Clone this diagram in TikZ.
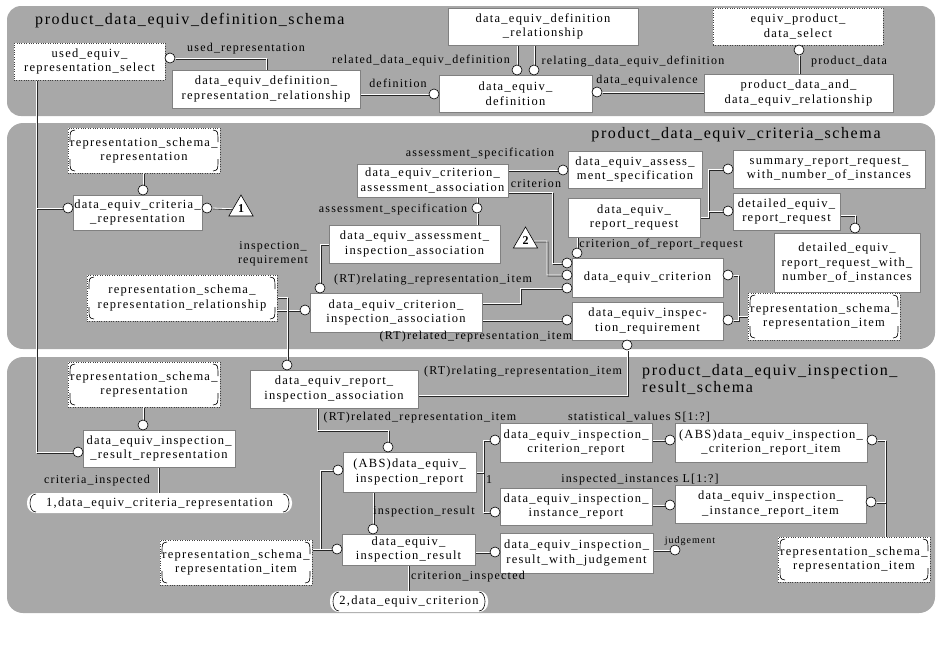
\documentclass[tikz,border=0pt]{standalone}
\usepackage{fontspec}
\setmainfont[LetterSpace=10]{Liberation Serif}
\usetikzlibrary{shapes.geometric}
\pgfdeclarelayer{bg}\pgfdeclarelayer{lns}\pgfsetlayers{bg,lns,main}
\definecolor{panel}{RGB}{168,168,168}
\newcommand\bxf{\fontsize{12.5}{14.5}\selectfont}
\newcommand\lbf{\fontsize{12}{14}\selectfont}
\newcommand\ttf{\fontsize{16}{17}\selectfont}
\newcommand\mybox[7]{\node[#6, minimum width={(#4-#2)*1pt}, minimum height={(#5-#3)*1pt}] (#1) at ({(#2+#4)/2},{(#3+#5)/2}) {#7};}
\tikzset{
 ent/.style={draw=black!50, line width=0.4pt, fill=white, align=center, font=\bxf, inner sep=0pt},
 sel/.style={ent, draw=black!75, dotted, line width=0.6pt},
 rsel/.style={sel, path picture={
   \draw[solid, black, line width=0.6pt]
    ([shift={(7pt,-2pt)}]path picture bounding box.north west) .. controls ([shift={(2pt,-3pt)}]path picture bounding box.north west) .. ([shift={(2pt,-14pt)}]path picture bounding box.north west)
    ([shift={(7pt,2pt)}]path picture bounding box.south west) .. controls ([shift={(2pt,3pt)}]path picture bounding box.south west) .. ([shift={(2pt,14pt)}]path picture bounding box.south west)
    ([shift={(-7pt,-2pt)}]path picture bounding box.north east) .. controls ([shift={(-2pt,-3pt)}]path picture bounding box.north east) .. ([shift={(-2pt,-14pt)}]path picture bounding box.north east)
    ([shift={(-7pt,2pt)}]path picture bounding box.south east) .. controls ([shift={(-2pt,3pt)}]path picture bounding box.south east) .. ([shift={(-2pt,14pt)}]path picture bounding box.south east);
 }},
 stad/.style={fill=white, rounded corners=9pt, align=center, font=\bxf, inner sep=0pt, path picture={
   \draw[sharp corners, solid, black, line width=0.6pt]
    ([shift={(9pt,-1pt)}]path picture bounding box.north west) .. controls ([shift={(1pt,-1pt)}]path picture bounding box.north west) and ([shift={(1pt,1pt)}]path picture bounding box.south west) .. ([shift={(9pt,1pt)}]path picture bounding box.south west)
    ([shift={(-9pt,-1pt)}]path picture bounding box.north east) .. controls ([shift={(-1pt,-1pt)}]path picture bounding box.north east) and ([shift={(-1pt,1pt)}]path picture bounding box.south east) .. ([shift={(-9pt,1pt)}]path picture bounding box.south east);
 }},
 circ/.style={circle, draw=black, fill=white, line width=0.6pt, minimum size=10pt, inner sep=0pt},
 lbl/.style={font=\lbf, inner sep=0pt, align=center},
 ttl/.style={font=\ttf, inner sep=0pt, align=left},
 tri/.style={regular polygon, regular polygon sides=3, draw=black, fill=white, line width=0.6pt, minimum size=28pt, inner sep=0pt, font=\bfseries\fontsize{12}{12}\selectfont},
 ln/.style={draw=white, line width=0.8pt, preaction={draw=black!85, line width=0.8pt, transform canvas={shift={(0.9pt,-0.9pt)}}}},
}
\begin{document}
\begin{tikzpicture}[x=1pt,y=-1pt]
\useasboundingbox (0,0) rectangle (939,657);
\begin{pgfonlayer}{bg}
\fill[white] (0,0) rectangle (939,657);
\fill[panel, rounded corners=14pt] (7,6) rectangle (935,116);
\fill[panel, rounded corners=16pt] (7,123) rectangle (935,349);
\fill[panel, rounded corners=16pt] (7,357) rectangle (935,613);
\end{pgfonlayer}
% ---------- panel 1
\node[ttl, anchor=west] (t1) at (35,21) {product\_data\_equiv\_definition\_schema};
\mybox{used}{14}{43}{165}{80}{sel}{used\_equiv\_\\representation\_select}
\mybox{uerr}{172}{70}{360}{108}{ent}{data\_equiv\_definition\_\\representation\_relationship}
\mybox{dedr}{448}{8}{638}{45}{ent}{data\_equiv\_definition\\\_relationship}
\mybox{dedef}{439}{75}{592}{112}{ent}{data\_equiv\_\\definition}
\mybox{eps}{713}{8}{883}{45}{sel}{equiv\_product\_\\data\_select}
\mybox{pdaer}{704}{74}{893}{112}{ent}{product\_data\_and\_\\data\_equiv\_relationship}
\node[circ] (c1) at (170,58) {};
\node[circ] (c2) at (434,94) {};
\node[circ] (c3) at (517,70) {};
\node[circ] (c4) at (534,70) {};
\node[circ] (c5) at (597,92) {};
\node[circ] (c6) at (799,50) {};
\node[lbl] (l1) at (246,49) {used\_representation};
\node[lbl] (l2) at (421,61) {related\_data\_equiv\_definition};
\node[lbl] (l3) at (398,83) {definition};
\node[lbl] (l4) at (633,62) {relating\_data\_equiv\_definition};
\node[lbl] (l5) at (647,81) {data\_equivalence};
\node[lbl] (l6) at (849,62) {product\_data};
% ---------- panel 2
\node[ttl] (t2) at (736,135) {product\_data\_equiv\_criteria\_schema};
\mybox{rsr2}{68}{128}{220}{173}{rsel}{representation\_schema\_\\representation}
\mybox{dcr}{73}{195}{202}{230}{ent}{data\_equiv\_criteria\_\\\_representation}
\node[tri] (tri1) at (241,209) {1};
\mybox{dcaa}{357}{164}{508}{197}{ent}{data\_equiv\_criterion\_\\assessment\_association}
\mybox{deas}{568}{151}{702}{188}{ent}{data\_equiv\_assess\_\\ment\_specification}
\mybox{derr}{568}{198}{700}{237}{ent}{data\_equiv\_\\report\_request}
\mybox{srr}{733}{150}{925}{188}{ent}{summary\_report\_request\_\\with\_number\_of\_instances}
\mybox{der}{733}{193}{840}{230}{ent}{detailed\_equiv\_\\report\_request}
\mybox{dwn}{774}{233}{920}{292}{ent}{detailed\_equiv\_\\report\_request\_with\_\\number\_of\_instances}
\node[tri] (tri2) at (525.5,241) {2};
\mybox{deaia}{329}{225}{500}{263}{ent}{data\_equiv\_assessment\_\\inspection\_association}
\mybox{crit}{572}{258}{723}{297}{ent}{data\_equiv\_criterion}
\mybox{dir}{572}{302}{723}{340}{ent}{data\_equiv\_inspec-\\tion\_requirement}
\mybox{dcia}{310}{293}{482}{332}{ent}{data\_equiv\_criterion\_\\inspection\_association}
\mybox{rsrr}{87}{275}{277}{321}{rsel}{representation\_schema\_\\representation\_relationship}
\mybox{rsri2}{748}{293}{900}{340}{rsel}{representation\_schema\_\\representation\_item}
\node[circ] (c7) at (143,190) {};
\node[circ] (c8) at (68,208) {};
\node[circ] (c9) at (207,208) {};
\node[circ] (c10) at (563,170) {};
\node[circ] (c11) at (477,208) {};
\node[circ] (c12) at (567,263) {};
\node[circ] (c13) at (567,275) {};
\node[circ] (c14) at (567,288) {};
\node[circ] (c15) at (577,253) {};
\node[circ] (c16) at (728,275) {};
\node[circ] (c17) at (567,320) {};
\node[circ] (c18) at (728,320) {};
\node[circ] (c19) at (627,345) {};
\node[circ] (c20) at (728,169) {};
\node[circ] (c21) at (728,211) {};
\node[circ] (c22) at (855,228) {};
\node[circ] (c23) at (320,288) {};
\node[circ] (c24) at (305,310) {};
\node[lbl] (l7) at (480,154) {assessment\_specification};
\node[lbl] (l8) at (536,184) {criterion};
\node[lbl] (l9) at (393,210) {assessment\_specification};
\node[lbl] (l10) at (661,245) {criterion\_of\_report\_request};
\node[lbl] (l11) at (273,254) {inspection\_\\requirement};
\node[lbl] (l12) at (433,280) {(RT)relating\_representation\_item};
\node[lbl] (l13) at (476,337) {(RT)related\_representation\_item};
% ---------- panel 3
\node[ttl, anchor=north west] (t3) at (642,364) {product\_data\_equiv\_inspection\_\\result\_schema};
\mybox{rsr3}{68}{362}{220}{407}{rsel}{representation\_schema\_\\representation}
\mybox{dirr}{83}{430}{235}{467}{ent}{data\_equiv\_inspection\_\\\_result\_representation}
\mybox{st1}{27}{493}{292}{513}{stad}{1,data\_equiv\_criteria\_representation}
\mybox{deria}{250}{370}{418}{408}{ent}{data\_equiv\_report\_\\inspection\_association}
\mybox{abs}{343}{452}{476}{492}{ent}{(ABS)data\_equiv\_\\inspection\_report}
\mybox{dires}{342}{534}{475}{565}{ent}{data\_equiv\_\\inspection\_result}
\mybox{st2}{330}{591}{488}{612}{stad}{2,data\_equiv\_criterion}
\mybox{dicr}{500}{423}{652}{462}{ent}{data\_equiv\_inspection\_\\criterion\_report}
\mybox{absi}{675}{423}{867}{462}{ent}{(ABS)data\_equiv\_inspection\_\\\_criterion\_report\_item}
\mybox{dinr}{500}{488}{652}{525}{ent}{data\_equiv\_inspection\_\\instance\_report}
\mybox{dinri}{675}{485}{866}{523}{ent}{data\_equiv\_inspection\_\\\_instance\_report\_item}
\mybox{diresj}{500}{533}{653}{573}{ent}{data\_equiv\_inspection\_\\result\_with\_judgement}
\mybox{rsri3r}{778}{537}{930}{582}{rsel}{representation\_schema\_\\representation\_item}
\mybox{rsri3l}{160}{540}{312}{585}{rsel}{representation\_schema\_\\representation\_item}
\node[circ] (c25) at (287,365) {};
\node[circ] (c26) at (143,425) {};
\node[circ] (c27) at (78,452) {};
\node[circ] (c28) at (388,447) {};
\node[circ] (c29) at (338,470) {};
\node[circ] (c30) at (373,529) {};
\node[circ] (c31) at (337,549) {};
\node[circ] (c32) at (495,440) {};
\node[circ] (c33) at (495,512) {};
\node[circ] (c34) at (670,440) {};
\node[circ] (c35) at (670,505) {};
\node[circ] (c36) at (495,552) {};
\node[circ] (c37) at (675,550) {};
\node[circ] (c38) at (872,440) {};
\node[circ] (c39) at (871,502) {};
\node[lbl] (l14) at (523,372) {(RT)relating\_representation\_item};
\node[lbl] (l15) at (420,418) {(RT)related\_representation\_item};
\node[lbl] (l16) at (97,481) {criteria\_inspected};
\node[lbl] (l17) at (639,417) {statistical\_values S[1:?]};
\node[lbl] (l18) at (489,480) {1};
\node[lbl] (l19) at (640,480) {inspected\_instances L[1:?]};
\node[lbl] (l20) at (424,512) {inspection\_result};
\node[lbl, font=\fontsize{10}{12}\selectfont] (l21) at (690,541) {judgement};
\node[lbl] (l22) at (468,577) {criterion\_inspected};
% ---------- connectors
\begin{pgfonlayer}{lns}
\coordinate (trunk) at ([xshift=23pt]used.south west);
\draw[ln] (trunk) |- (c27.west);
\draw[ln] (trunk |- c8) -- (c8.west);
\draw[ln] (c1.east) -| (uerr.north);
\draw[ln] (uerr.east |- c2) -- (c2.west);
\draw[ln] (dedr.south -| c3) -- (c3.north);
\draw[ln] (dedr.south -| c4) -- (c4.north);
\draw[ln] (c5.east) -- (pdaer.west |- c5);
\draw[ln] (c6.south) -- (pdaer.north -| c6);
% panel 2
\draw[ln] (rsr2.south -| c7) -- (c7.north);
\draw[ln] (c9.east) -- (tri1);
\draw[ln] (dcaa.east |- c10) -- (c10.west);
\coordinate (k1) at (552,192);
\draw[ln] (dcaa.east |- k1) -- (k1) |- (c12.west);
\draw[ln] (dcaa.south -| c11) -- (c11.north);
\draw[ln] (c11.south) -- (deaia.north -| c11);
\coordinate (k2) at (708,169);
\draw[ln] (c20.west) -- (k2) -- (k2 |- derr.east) -- (derr.east);
\draw[ln] (c21.west) -- (k2 |- c21);
\coordinate (k3) at (855,215);
\draw[ln] (der.east |- k3) -| (c22.north);
\draw[ln] (derr.south -| c15) -- (c15.north);
\coordinate (k4) at (547,241);
\draw[ln] (tri2.east) -- (k4) |- (c13.west);
\coordinate (k5) at (520,303);
\draw[ln] (dcia.east |- k5) -- (k5) |- (c14.west);
\coordinate (k6) at (738,275);
\draw[ln] (c16.east) -- (k6) -- (k6 |- c18) -- (c18.east);
\draw[ln] (k6 |- rsri2.west) -- (rsri2.west);
\draw[ln] (dcia.east |- c17) -- (c17.west);
\draw[ln] (c23.north) |- (deaia.west);
\draw[ln] (rsrr.east |- c24) -- (c24.west);
\coordinate (k8) at (287,297);
\draw[ln] (rsrr.east |- k8) -- (k8) -- (c25.north);
\coordinate (k9) at (627,395);
\draw[ln] (c19.south) -- (k9) -- (deria.east |- k9);
% panel 3
\draw[ln] (rsr3.south -| c26) -- (c26.north);
\coordinate (k10) at (158,480);
\draw[ln] (dirr.south -| k10) -- (st1.north -| k10);
\coordinate (k11) at (317,430);
\draw[ln] (deria.south -| k11) -- (k11) -| (c28.north);
\coordinate (k12) at (320,470);
\draw[ln] (c29.west) -- (k12) -- (k12 |- c31);
\draw[ln] (rsri3l.east |- c31) -- (c31.west);
\draw[ln] (abs.south -| c30) -- (c30.north);
\coordinate (k13) at (483,440);
\draw[ln] (c32.west) -- (k13) -- (k13 |- c33) -- (c33.west);
\draw[ln] (abs.east) -- (abs.east -| k13);
\draw[ln] (dires.east |- c36) -- (c36.west);
\coordinate (k14) at (408,580);
\draw[ln] (dires.south -| k14) -- (st2.north -| k14);
\draw[ln] (dicr.east |- c34) -- (c34.west);
\draw[ln] (dinr.east |- c35) -- (c35.west);
\draw[ln] (diresj.east |- c37) -- (c37.west);
\coordinate (k15) at (885,440);
\draw[ln] (c38.east) -- (k15) -- (rsri3r.north -| k15);
\draw[ln] (c39.east) -- (k15 |- c39);
\end{pgfonlayer}
\end{tikzpicture}
\end{document}
